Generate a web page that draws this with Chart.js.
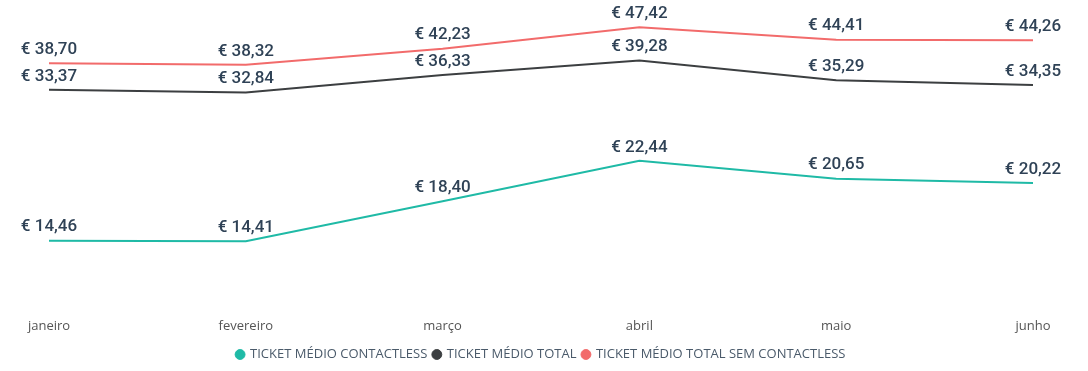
<!DOCTYPE html>
<html>
<head>
<meta charset="utf-8">
<script src="https://cdn.jsdelivr.net/npm/chart.js@4"></script>
<style>
  html, body { margin: 0; padding: 0; background: #fff; }
  #wrap { width: 1088px; height: 371px; }
</style>
</head>
<body>
<div id="wrap"><canvas id="c"></canvas></div>
<script>
const months = ["janeiro", "fevereiro", "março", "abril", "maio", "junho"];
const contactless = [14.46, 14.41, 18.40, 22.44, 20.65, 20.22];
const total = [33.37, 32.84, 36.33, 39.28, 35.29, 34.35];
const semContactless = [38.70, 38.32, 42.23, 47.42, 44.41, 44.26];

const fmt = (v) => "€ " + v.toFixed(2).replace(".", ",");

// draws the "€ xx,xx" label above each point
const valueLabels = {
    id: "valueLabels",
    afterDatasetsDraw(chart) {
        const ctx = chart.ctx;
        ctx.save();
        ctx.font = "500 17px Roboto";
        ctx.fillStyle = "#2f4256";
        ctx.textAlign = "center";
        ctx.textBaseline = "bottom";
        chart.data.datasets.forEach((ds, i) => {
            chart.getDatasetMeta(i).data.forEach((pt, j) => {
                ctx.fillText(fmt(ds.data[j]), pt.x, pt.y - 5);
            });
        });
        ctx.restore();
    }
};

const hiddenAxis = (min, max) => ({ display: false, min: min, max: max });

new Chart(document.getElementById("c"), {
    type: "line",
    data: {
        labels: months,
        datasets: [
            { label: "TICKET MÉDIO CONTACTLESS", data: contactless, yAxisID: "yC",
              borderColor: "#1fbaa6", backgroundColor: "#1fbaa6" },
            { label: "TICKET MÉDIO TOTAL", data: total, yAxisID: "yT",
              borderColor: "#3c3f41", backgroundColor: "#3c3f41" },
            { label: "TICKET MÉDIO TOTAL SEM CONTACTLESS", data: semContactless, yAxisID: "yS",
              borderColor: "#f26b6b", backgroundColor: "#f26b6b" }
        ]
    },
    options: {
        responsive: true,
        maintainAspectRatio: false,
        animation: false,
        elements: {
            line: { borderWidth: 2, tension: 0 },
            point: { radius: 0, hoverRadius: 0 }
        },
        layout: { padding: { left: 49, right: 55, top: 10, bottom: 0 } },
        scales: {
            x: {
                grid: { display: false },
                border: { display: false },
                ticks: { color: "#555", font: { family: "Open Sans", size: 13 }, padding: 8, maxRotation: 0 }
            },
            yC: hiddenAxis(8.3, 37.5),
            yT: hiddenAxis(-9.3, 49.4),
            yS: hiddenAxis(-19.2, 51.6)
        },
        plugins: {
            legend: {
                position: "bottom",
                labels: {
                    usePointStyle: true,
                    pointStyle: "circle",
                    boxWidth: 7,
                    boxHeight: 7,
                    padding: 6,
                    color: "#4a5a6a",
                    font: { family: "Open Sans", size: 13 }
                }
            },
            tooltip: { enabled: false }
        }
    },
    plugins: [valueLabels]
});
</script>
</body>
</html>
